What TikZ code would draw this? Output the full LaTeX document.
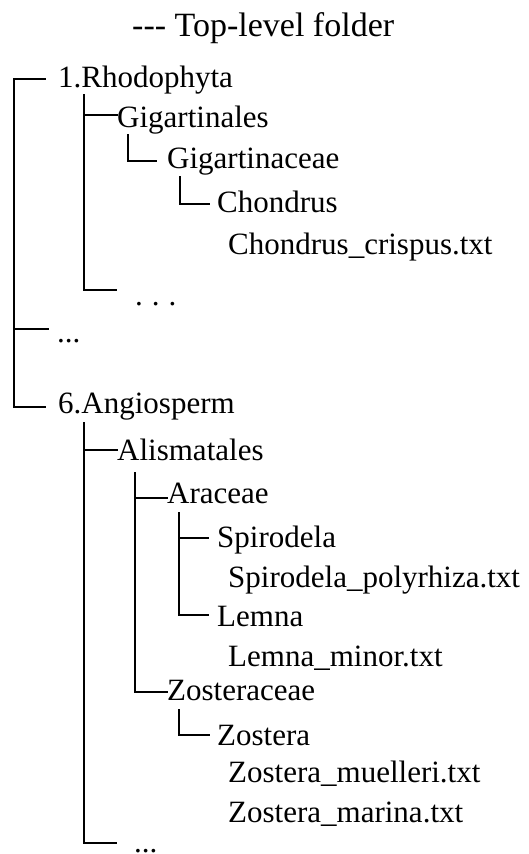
\documentclass[tikz,border=0pt]{standalone}
\usepackage{fontspec}
\setmainfont{Liberation Serif}
\begin{document}
\begin{tikzpicture}[x=1pt,y=-1pt,
  lbl/.style={anchor=base west,inner sep=0pt,font=\fontsize{31}{36}\selectfont},
  ttl/.style={anchor=base west,inner sep=0pt,font=\fontsize{34}{40}\selectfont},
  tree/.style={line width=2.7pt,line join=miter,line cap=rect}]
\useasboundingbox (0,0) rectangle (529,854);
% texts
\node[ttl] (title) at (132,36) {-{}-{}- Top-level folder};
\node[lbl] (rho) at (58,87) {1.Rhodophyta};
\node[lbl] (gigs) at (117,127) {Gigartinales};
\node[lbl] (giga) at (167,168) {Gigartinaceae};
\node[lbl] (chon) at (217,212) {Chondrus};
\node[lbl] (chcr) at (228,254) {Chondrus\_crispus.txt};
\node[lbl] (dotsa) at (135,305) {.\hspace{9pt}.\hspace{9pt}.};
\node[lbl] (dotsb) at (57,342) {...};
\node[lbl] (angio) at (58,413) {6.Angiosperm};
\node[lbl] (alis) at (117,460) {Alismatales};
\node[lbl] (arac) at (167,503) {Araceae};
\node[lbl] (spir) at (217,547) {Spirodela};
\node[lbl] (spirp) at (228,587) {Spirodela\_polyrhiza.txt};
\node[lbl] (lemna) at (217,626) {Lemna};
\node[lbl] (lemm) at (228,666) {Lemna\_minor.txt};
\node[lbl] (zostc) at (167,700) {Zosteraceae};
\node[lbl] (zost) at (217,745) {Zostera};
\node[lbl] (zmu) at (228,782) {Zostera\_muelleri.txt};
\node[lbl] (zma) at (228,822) {Zostera\_marina.txt};
\node[lbl,text height=4pt,text depth=0pt] (dotsc) at (134,852) {...};
% level 0
\coordinate (a0) at (45,79); \coordinate (a1) at (14,79);
\coordinate (a2) at (14,407); \coordinate (a3) at (45,407);
\coordinate (a4) at (14,329); \coordinate (a5) at (48,329);
\draw[tree] (a0) -- (a1) -- (a2) -- (a3);
\draw[tree] (a4) -- (a5);
% Rhodophyta
\coordinate (b0) at (84,95); \coordinate (b1) at (84,290); \coordinate (b2) at (116,290);
\coordinate (b3) at (84,115); \coordinate (b4) at (117,115);
\draw[tree] (b0) -- (b1) -- (b2);
\draw[tree] (b3) -- (b4);
\coordinate (c0) at (128,135); \coordinate (c1) at (128,161); \coordinate (c2) at (156,161);
\draw[tree] (c0) -- (c1) -- (c2);
\coordinate (d0) at (180,177); \coordinate (d1) at (180,204); \coordinate (d2) at (209,204);
\draw[tree] (d0) -- (d1) -- (d2);
% Angiosperm
\coordinate (e0) at (84,423); \coordinate (e1) at (84,843); \coordinate (e2) at (116,843);
\coordinate (e3) at (84,450); \coordinate (e4) at (117,450);
\draw[tree] (e0) -- (e1) -- (e2);
\draw[tree] (e3) -- (e4);
\coordinate (f0) at (135,473); \coordinate (f1) at (135,692); \coordinate (f2) at (167,692);
\coordinate (f3) at (135,498); \coordinate (f4) at (167,498);
\draw[tree] (f0) -- (f1) -- (f2);
\draw[tree] (f3) -- (f4);
\coordinate (g0) at (179,513); \coordinate (g1) at (179,615); \coordinate (g2) at (208,615);
\coordinate (g3) at (179,538); \coordinate (g4) at (208,538);
\draw[tree] (g0) -- (g1) -- (g2);
\draw[tree] (g3) -- (g4);
\coordinate (h0) at (179,710); \coordinate (h1) at (179,735); \coordinate (h2) at (209,735);
\draw[tree] (h0) -- (h1) -- (h2);
\end{tikzpicture}
\end{document}
